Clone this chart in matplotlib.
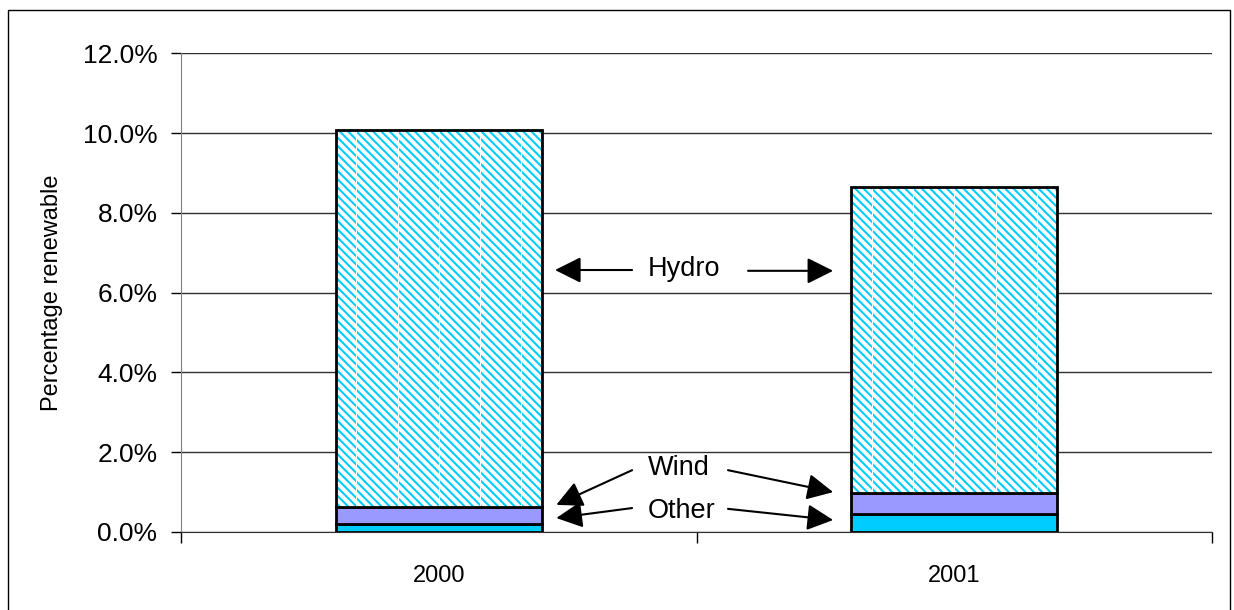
import matplotlib
matplotlib.use('Agg')
import matplotlib.pyplot as plt
from matplotlib.patches import Rectangle
from matplotlib.ticker import FuncFormatter, FixedLocator

years = ['2000', '2001']
other = [0.20, 0.45]
wind = [0.43, 0.53]
hydro = [9.44, 7.67]

plt.rcParams['font.family'] = 'Liberation Sans'
plt.rcParams['hatch.linewidth'] = 1.5

fig = plt.figure(figsize=(12.34, 6.10), dpi=100)
ax = fig.add_axes([0.1467, 0.1279, 0.9822 - 0.1467, 0.9123 - 0.1279])

x = list(range(len(years)))
w = 0.4
base_wind = other
base_hydro = [o + wi for o, wi in zip(other, wind)]

ax.bar(x, other, w, color='#00CCFF', edgecolor='black', linewidth=2, zorder=3)
ax.bar(x, wind, w, bottom=base_wind, color='#9999FF', edgecolor='black', linewidth=2, zorder=3)
# hatched hydro: cyan stripes on white, outline drawn separately
ax.bar(x, hydro, w, bottom=base_hydro, color='white', edgecolor='#00CCFF',
       hatch='\\\\\\\\', linewidth=0, zorder=3)
for xi, b, h in zip(x, base_hydro, hydro):
    for f in [0.1, 0.3, 0.5, 0.7, 0.9]:
        ax.vlines(xi - w / 2 + f * w, b, b + h, color='white', linewidth=0.8, zorder=3.5)
ax.bar(x, hydro, w, bottom=base_hydro, fill=False, edgecolor='black', linewidth=2, zorder=4)

ax.set_xlim(-0.5, 1.5)
ax.set_ylim(0, 12)
ax.set_yticks(range(0, 13, 2))
ax.yaxis.set_major_formatter(FuncFormatter(lambda v, p: f'{v:.1f}%'))
ax.set_xticks(x)
ax.set_xticklabels(years)
ax.xaxis.set_minor_locator(FixedLocator([-0.5, 0.5, 1.5]))
ax.tick_params(axis='x', which='major', length=0, pad=24, labelsize=17)
ax.tick_params(axis='x', which='minor', length=8, width=1, color='black')
ax.tick_params(axis='y', length=7, width=1, pad=10, labelsize=19)
ax.set_ylabel('Percentage renewable', fontsize=17, labelpad=14)

ax.grid(axis='y', color='#303030', linewidth=1, zorder=0)
ax.set_axisbelow(True)
for s in ['top', 'right']:
    ax.spines[s].set_visible(False)
ax.spines['left'].set_color('#808080')
ax.spines['bottom'].set_color('#303030')

arrow = dict(arrowstyle='-|>,head_length=0.8,head_width=0.4', color='black',
             lw=1.5, mutation_scale=20, shrinkA=0, shrinkB=0)
labels = [
    ('Hydro', (0.476, 6.6), [((0.375, 6.57), (0.2255, 6.57)), ((0.600, 6.55), (0.765, 6.55))]),
    ('Wind', (0.466, 1.60), [((0.375, 1.55), (0.228, 0.68)), ((0.561, 1.55), (0.765, 1.0))]),
    ('Other', (0.472, 0.53), [((0.375, 0.60), (0.228, 0.35)), ((0.561, 0.58), (0.765, 0.30))]),
]
for name, pos, arrows in labels:
    ax.text(pos[0], pos[1], name, fontsize=19.5, ha='center', va='center', zorder=6)
    for tail, tip in arrows:
        ax.annotate('', xy=tip, xytext=tail, arrowprops=arrow, zorder=6)

fig.patches.append(Rectangle((8 / 1234, -0.05), (1230 - 8) / 1234, 1 - 10 / 610 + 0.05,
                             transform=fig.transFigure, fill=False,
                             edgecolor='black', linewidth=1))

fig.savefig('out.png', dpi=100)
